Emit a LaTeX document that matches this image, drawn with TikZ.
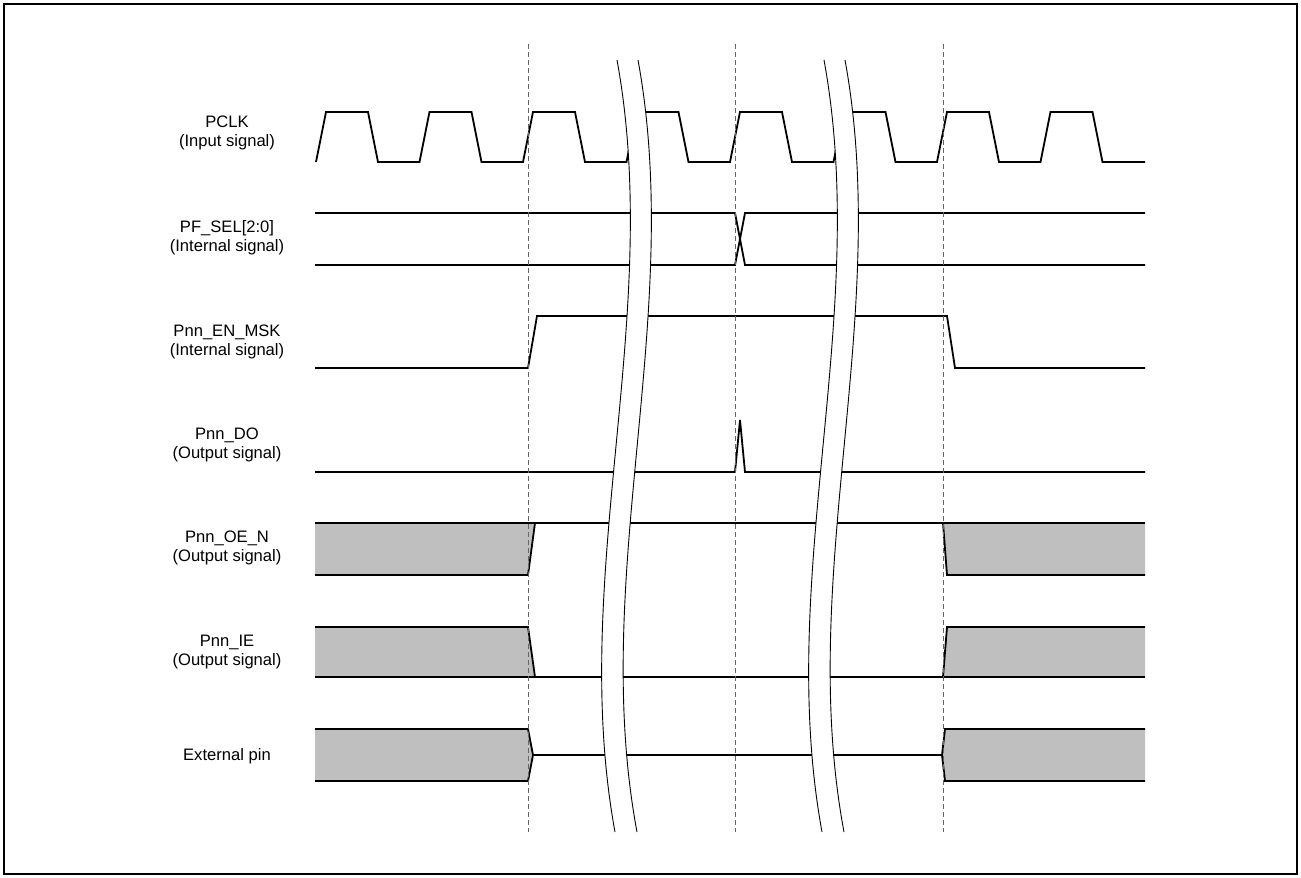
\documentclass[tikz,border=0pt]{standalone}
\usepackage{fontspec}
\setmainfont{Liberation Sans}
\usepackage{tikz}
\usetikzlibrary{positioning}

\begin{document}
\begin{tikzpicture}[
  x=0.5pt, y=-0.5pt,
  signame/.style={align=center, font=\fontsize{8.3}{9.6}\selectfont, inner sep=0pt},
  sig/.style={draw, line width=0.9pt, line join=miter},
  shade/.style={fill=black!25},
  guide/.style={draw=black!60, line width=0.5pt, dash pattern=on 2.5pt off 1.5pt},
  cut/.style={draw, line width=0.45pt}
]
\useasboundingbox (0,0) rectangle (1301,878);
\draw[line width=0.6pt] (4,4) rectangle (1297,874);

% Signal names
\node[signame] (pclk) at (227,133) {PCLK\\(Input signal)};
\node[signame] (pfsel) at (227,237.5) {PF\_SEL[2:0]\\(Internal signal)};
\node[signame] (enmsk) at (227,342) {Pnn\_EN\_MSK\\(Internal signal)};
\node[signame] (do) at (227,445) {Pnn\_DO\\(Output signal)};
\node[signame] (oen) at (227,548) {Pnn\_OE\_N\\(Output signal)};
\node[signame] (ie) at (227,652) {Pnn\_IE\\(Output signal)};
\node[signame] (extpin) at (227,756) {External pin};

% Undefined (grey) areas
\fill[shade] (315,523) -- (535,523) -- (528,575) -- (315,575) -- cycle;
\fill[shade] (943,523) -- (1145,523) -- (1145,575) -- (947,575) -- cycle;
\fill[shade] (315,627) -- (528,627) -- (535,677) -- (315,677) -- cycle;
\fill[shade] (947,627) -- (1145,627) -- (1145,677) -- (943,677) -- cycle;
\fill[shade] (315,729) -- (528,729) -- (533,755) -- (528,781) -- (315,781) -- cycle;
\fill[shade] (1145,729) -- (945,729) -- (942,755) -- (945,781) -- (1145,781) -- cycle;

% PCLK
\draw[sig] (316,162) \foreach \c in {321,424.5,528,631.5,735,838.5,942,1045.5}
  { -- (\c-5,162) -- (\c+5,112) -- (\c+47,112) -- (\c+57,162) } -- (1145,162);

% PF_SEL[2:0]
\draw[sig] (315,213) -- (735,213) -- (745,265) -- (1145,265);
\draw[sig] (315,265) -- (735,265) -- (745,213) -- (1145,213);

% Pnn_EN_MSK
\draw[sig] (315,368) -- (528,368) -- (537,316) -- (947,316) -- (955,368) -- (1145,368);

% Pnn_DO
\draw[sig] (315,472) -- (735,472) -- (740,420) -- (745,472) -- (1145,472);

% Pnn_OE_N
\draw[sig] (315,523) -- (1145,523);
\draw[sig] (315,575) -- (528,575) -- (535,523);
\draw[sig] (943,523) -- (947,575) -- (1145,575);

% Pnn_IE
\draw[sig] (315,677) -- (1145,677);
\draw[sig] (315,627) -- (528,627) -- (535,677);
\draw[sig] (943,677) -- (947,627) -- (1145,627);

% External pin
\draw[sig] (315,729) -- (528,729) -- (533,755) -- (528,781) -- (315,781);
\draw[sig] (533,755) -- (942,755);
\draw[sig] (1145,729) -- (945,729) -- (942,755) -- (945,781) -- (1145,781);

% Timing guides
\foreach \x in {528,735,943}
  \draw[guide] (\x,44) -- (\x,832);

% Time breaks
\foreach \s in {0,207} {
  \fill[white] (617+\s,60) .. controls (664+\s,317) and (568+\s,575) .. (615+\s,832)
    -- (637+\s,832) .. controls (589+\s,575) and (685+\s,317) .. (638+\s,60) -- cycle;
  \draw[cut] (617+\s,60) .. controls (664+\s,317) and (568+\s,575) .. (615+\s,832);
  \draw[cut] (638+\s,60) .. controls (685+\s,317) and (589+\s,575) .. (637+\s,832);
}
\end{tikzpicture}
\end{document}
